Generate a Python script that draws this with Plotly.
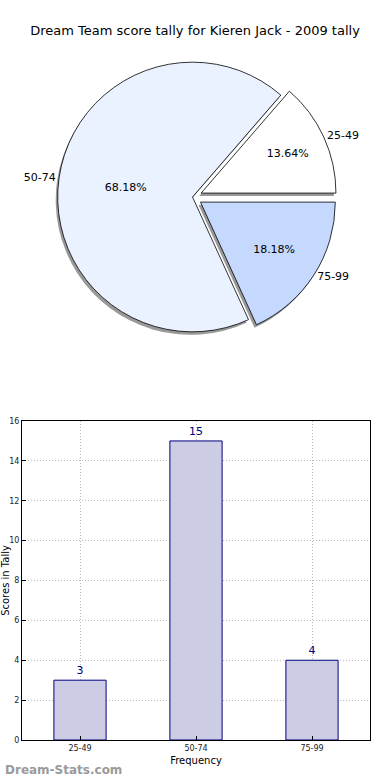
import plotly.graph_objects as go

categories = ["25-49", "50-74", "75-99"]
counts = [3, 15, 4]
pie_colors = ["#FFFFFF", "#EAF1FF", "#C5D9FF"]
pulls = [0.07, 0.0, 0.07]

W, H = 390, 780
ML, MR, MT, MB = 19, 20, 0, 0
PW = W - ML - MR
PH = H - MT - MB

def px_x(x):
    return (x - ML) / PW

def px_y(y):
    return 1 - (y - MT) / PH

# first slice starts at 3 o'clock and runs counterclockwise (matplotlib default)
start_rot = 90 - 360 * counts[0] / sum(counts)

# pie domain (pixels)
cx, cy, r = 191, 197, 136
half = r * (1 + max(pulls))
dom_x = [px_x(cx - half), px_x(cx + half)]
dom_y = [px_y(cy + half), px_y(cy - half)]
sdx, sdy = -2, 3
sdom_x = [px_x(cx - half + sdx), px_x(cx + half + sdx)]
sdom_y = [px_y(cy + half + sdy), px_y(cy - half + sdy)]

fig = go.Figure()

common = dict(labels=categories, values=counts, sort=False,
              direction="counterclockwise", rotation=start_rot, pull=pulls)

# shadow
fig.add_trace(go.Pie(
    **common, domain=dict(x=sdom_x, y=sdom_y),
    marker=dict(colors=["rgba(110,110,110,0.7)"] * 3, line=dict(width=0)),
    textinfo="none", hoverinfo="skip", showlegend=False,
))
# main pie with percentages
fig.add_trace(go.Pie(
    **common, domain=dict(x=dom_x, y=dom_y),
    marker=dict(colors=pie_colors, line=dict(color="#000000", width=0.8)),
    textinfo="percent", texttemplate="%{percent:.2%}", textposition="inside",
    insidetextorientation="horizontal",
    textfont=dict(family="DejaVu Sans", size=11, color="#000000"),
    showlegend=False,
))
# outside labels
fig.add_trace(go.Pie(
    **common, domain=dict(x=dom_x, y=dom_y),
    marker=dict(colors=["rgba(0,0,0,0)"] * 3, line=dict(width=0)),
    textinfo="label", textposition="outside",
    textfont=dict(family="DejaVu Sans", size=11, color="#000000"),
    hoverinfo="skip", showlegend=False,
))

fig.add_trace(go.Bar(
    x=categories, y=counts, width=0.45,
    marker=dict(color="#CCCCE5", line=dict(color="#000080", width=1)),
    text=[str(c) for c in counts], textposition="outside",
    textfont=dict(family="DejaVu Sans", size=11, color="#000080"),
    cliponaxis=False, showlegend=False,
))

grid = dict(showgrid=True, gridcolor="#b8b8b8", griddash="1px,2px", gridwidth=1,
            automargin=False)
fig.update_layout(
    width=W, height=H,
    margin=dict(l=ML, r=MR, t=MT, b=MB),
    paper_bgcolor="white", plot_bgcolor="white",
    font=dict(family="DejaVu Sans", color="#000000"),
    title=dict(text="Dream Team score tally for Kieren Jack - 2009 tally",
               x=0.5, xanchor="center", y=1 - 30 / H, yanchor="middle",
               font=dict(size=13, family="DejaVu Sans", color="#000000")),
    xaxis=dict(domain=[0, 1], range=[-0.5, 2.5], showline=True, linecolor="black",
               mirror=True, ticks="inside", ticklen=4, tickcolor="black",
               tickfont=dict(size=8, family="DejaVu Sans", color="#222"),
               title=dict(text="Frequency", font=dict(size=10), standoff=5), **grid),
    yaxis=dict(domain=[px_y(740), px_y(421)], range=[0, 16], dtick=2,
               showline=True, linecolor="black", mirror=True, ticks="inside",
               ticklen=4, tickcolor="black", zeroline=False,
               tickfont=dict(size=8, family="DejaVu Sans", color="#222"),
               title=dict(text="Scores in Tally", font=dict(size=10), standoff=19), **grid),
    bargap=0.55,
    annotations=[dict(text="<b>Dream-Stats.com</b>", xref="paper", yref="paper",
                      x=px_x(0), y=px_y(770), xanchor="left", yanchor="middle",
                      showarrow=False, font=dict(size=12, color="#9a9a9a", family="DejaVu Sans"))],
)

fig.write_html("out.html", config={"displayModeBar": False},
               post_script="document.body.style.margin='0';")
